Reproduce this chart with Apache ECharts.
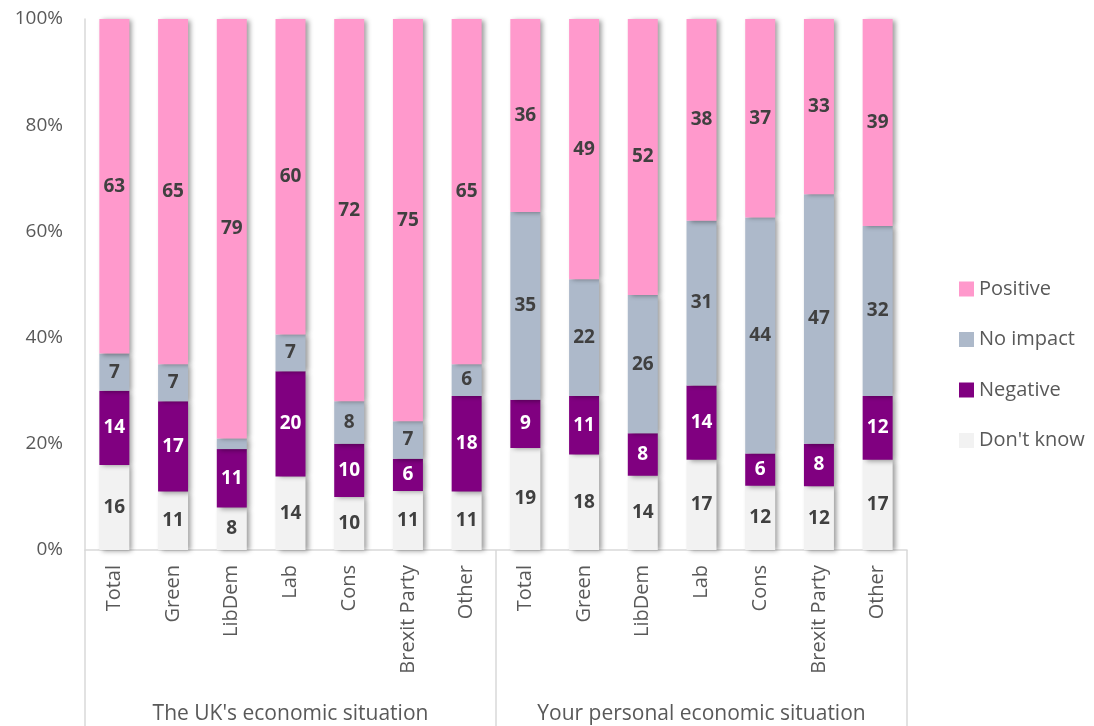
<!DOCTYPE html>
<html>
<head>
<meta charset="utf-8">
<script src="https://cdn.jsdelivr.net/npm/echarts@6/dist/echarts.min.js"></script>
<style>
  html, body { margin: 0; padding: 0; background: #fff; }
  #chart { width: 1094px; height: 726px; }
</style>
</head>
<body>
<div id="chart"></div>
<script>
// categories (two groups of seven)
const groups = ["The UK's economic situation", 'Your personal economic situation'];
const categories = [
  'Total', 'Green', 'LibDem', 'Lab', 'Cons', 'Brexit Party', 'Other',
  'Total', 'Green', 'LibDem', 'Lab', 'Cons', 'Brexit Party', 'Other'
];

// raw values as printed on the chart
const dontKnow = [16, 11, 8, 14, 10, 11, 11, 19, 18, 14, 17, 12, 12, 17];
const negative = [14, 17, 11, 20, 10, 6, 18, 9, 11, 8, 14, 6, 8, 12];
const noImpact = [7, 7, 2, 7, 8, 7, 6, 35, 22, 26, 31, 44, 47, 32];
const positive = [63, 65, 79, 60, 72, 75, 65, 36, 49, 52, 38, 37, 33, 39];

const seriesNames = ["Don't know", 'Negative', 'No impact', 'Positive'];
const seriesColors = ['#f2f2f2', '#800080', '#adb9ca', '#ff99cc'];
const labelColors = ['#404040', '#ffffff', '#404040', '#404040'];
const rawSeries = [dontKnow, negative, noImpact, positive];

const font = 'Open Sans';

const chart = echarts.init(document.getElementById('chart'));

// 100% stacked: share of each column total
const totals = categories.map((c, i) => rawSeries.reduce((s, arr) => s + arr[i], 0));

const series = rawSeries.map((arr, k) => ({
  name: seriesNames[k],
  type: 'bar',
  stack: 'all',
  xAxisIndex: 0,
  barWidth: 30,
  itemStyle: {
    color: seriesColors[k],
    shadowColor: 'rgba(0,0,0,0.4)',
    shadowBlur: 5,
    shadowOffsetX: 3,
    shadowOffsetY: 1
  },
  label: {
    show: true,
    position: 'inside',
    color: labelColors[k],
    fontFamily: font,
    fontWeight: 'bold',
    fontSize: 19,
    formatter: p => (arr[p.dataIndex] < 3 ? '' : String(arr[p.dataIndex]))
  },
  data: arr.map((v, i) => v / totals[i] * 100)
}));

chart.setOption({
  animation: false,
  textStyle: { fontFamily: font },
  grid: { left: 85, right: 187, top: 19, bottom: 176 },
  legend: {
    orient: 'vertical',
    left: 954,
    top: 274,
    itemWidth: 15,
    itemHeight: 15,
    itemGap: 30.5,
    icon: 'rect',
    data: ['Positive', 'No impact', 'Negative', "Don't know"],
    textStyle: { color: '#595959', fontSize: 20, lineHeight: 20, fontFamily: font }
  },
  xAxis: [
    {
      type: 'category',
      data: categories,
      axisLine: { show: true, lineStyle: { color: '#d9d9d9', width: 1.5 } },
      axisTick: { show: false },
      axisLabel: {
        interval: 0,
        rotate: 90,
        margin: 15,
        color: '#595959',
        fontSize: 20,
        fontFamily: font
      }
    },
    {
      type: 'category',
      position: 'bottom',
      data: groups,
      axisLine: { show: false },
      axisTick: { show: true, length: 180, lineStyle: { color: '#d9d9d9', width: 1.5 } },
      axisLabel: {
        interval: 0,
        margin: 154,
        color: '#595959',
        fontSize: 21,
        fontFamily: font
      }
    }
  ],
  yAxis: {
    type: 'value',
    min: 0,
    max: 100,
    interval: 20,
    axisLine: { show: true, lineStyle: { color: '#d9d9d9', width: 1.5 } },
    axisTick: { show: false },
    splitLine: { show: false },
    axisLabel: {
      formatter: '{value}%',
      margin: 22,
      color: '#595959',
      fontSize: 19,
      fontFamily: font
    }
  },
  series: series
});
</script>
</body>
</html>
